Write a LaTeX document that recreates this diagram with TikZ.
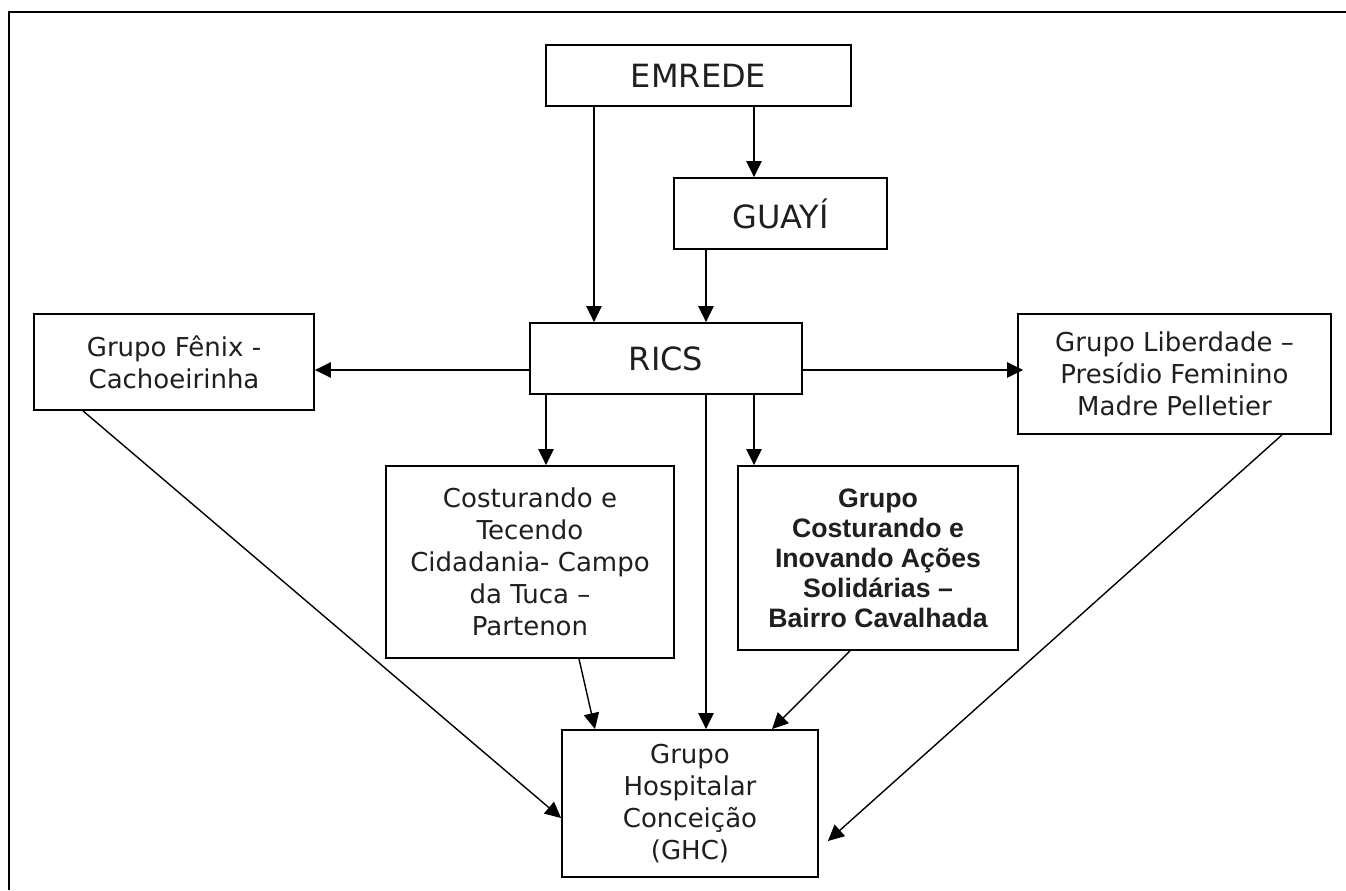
\documentclass[tikz,border=0pt]{standalone}
\usepackage{fontspec}
\setmainfont{DejaVu Sans}
\newfontfamily\arialfont{Liberation Sans}
\usetikzlibrary{arrows.meta,calc}
\begin{document}
\begin{tikzpicture}[x=0.75pt,y=-0.75pt,
  box/.style={draw, line width=1.35pt, align=center, inner sep=0pt,
    font=\fontsize{19.5}{24}\selectfont, text=black!88},
  bigbox/.style={box, font=\fontsize{24}{28}\selectfont},
  boldbox/.style={box, font=\arialfont\bfseries\fontsize{20}{22.5}\selectfont},
  sz/.style 2 args={minimum width=#1*0.75pt, minimum height=#2*0.75pt},
  conn/.style={line width=1.05pt, -{Triangle[length=12pt,width=11.5pt]}},
  plainline/.style={line width=1.05pt}]
\useasboundingbox (0,0) rectangle (1346,891);
\fill[white] (0,0) rectangle (1346,891);
% outer frame (top and left edges)
\draw[line width=1.9pt] (9,890) -- (9,12) -- (1346,12);

% nodes
\node[bigbox, sz={305}{61}] (e) at (698.5,75.5) {EMREDE};
\node[bigbox, sz={213}{71}] (g) at (780.5,213.5) {GUAYÍ};
\node[bigbox, sz={272}{71}] (r) at (666,358.5) {RICS};
\node[box, sz={280}{96}] (f) at (174,362) {Grupo Fênix -\\Cachoeirinha};
\node[box, sz={313}{120}] (l) at (1174.5,374) {Grupo Liberdade –\\Presídio Feminino\\Madre Pelletier};
\node[box, sz={288}{192}] (c) at (530,562) {Costurando e\\Tecendo\\Cidadania- Campo\\da Tuca –\\Partenon};
\node[boldbox, sz={280}{184}] (gc) at (878,558) {Grupo\\Costurando e\\Inovando Ações\\Solidárias –\\Bairro Cavalhada};
\node[box, sz={256}{147}] (h) at (690,803.5) {Grupo\\Hospitalar\\Conceição\\(GHC)};

% helper coordinates
\coordinate (x546) at (546,0);
\coordinate (x594) at (594,0);
\coordinate (x706) at (706,0);
\coordinate (x754) at (754,0);
\coordinate (y370) at (0,370);
\coordinate (ltip) at ($(h.east)+(9,37.5)$);

% connectors
\draw[conn] (e.south -| x594) -- (r.north -| x594);
\draw[conn] (e.south -| x754) -- (g.north -| x754);
\draw[conn] (g.south -| x706) -- (r.north -| x706);
\draw[conn] (r.west |- y370) -- (f.east |- y370);
\draw[conn] (r.east |- y370) -- ($(l.west |- y370)+(6,0)$);
\draw[conn] (r.south -| x546) -- (c.north -| x546);
\draw[conn] (r.south -| x706) -- (h.north -| x706);
\draw[conn] (r.south -| x754) -- (gc.north -| x754);
\draw[conn] ($(f.south)+(-91,0)$) -- ($(h.west)+(0,14.5)$);
\draw[conn] ($(c.south)+(49,0)$) -- ($(h.north)+(-95,0)$);
\draw[conn] ($(gc.south)+(-28,0)$) -- ($(h.north)+(82,0)$);
\draw[conn] ($(l.south)+(107.5,0)$) -- (ltip);
\end{tikzpicture}
\end{document}
